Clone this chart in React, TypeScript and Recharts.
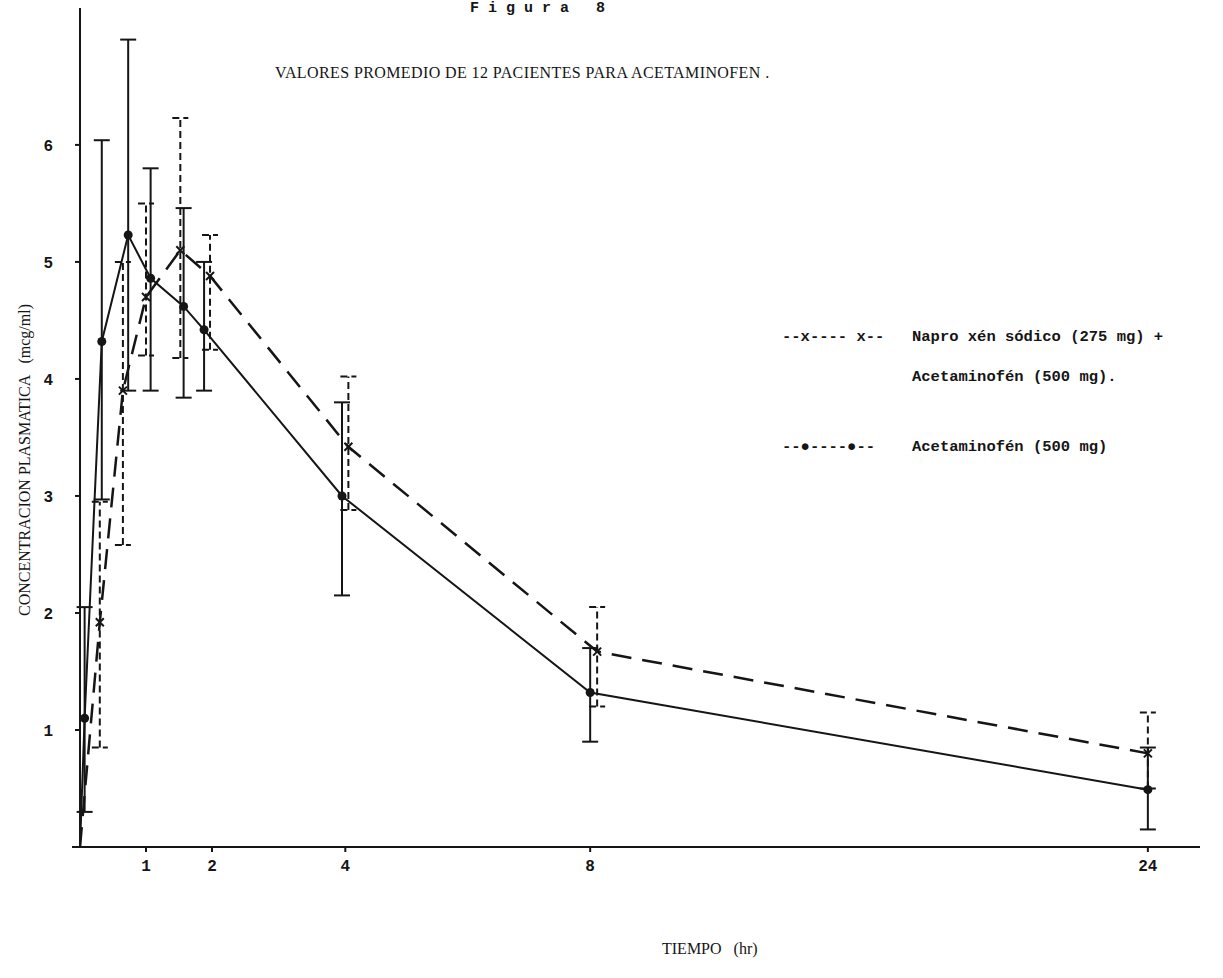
import React from 'react';
import { LineChart, Line, XAxis, YAxis, ErrorBar } from 'recharts';

// Acetaminofén (500 mg) - solid line, filled dots
const acetHours = [0, 0.07, 0.33, 0.73, 1.07, 1.57, 1.88, 3.95, 8, 24];
const acetMean = [0, 1.1, 4.32, 5.23, 4.86, 4.62, 4.42, 3.0, 1.32, 0.49];
const acetLow = [0, 0.3, 2.97, 3.9, 3.9, 3.84, 3.9, 2.15, 0.9, 0.15];
const acetHigh = [0, 2.05, 6.04, 6.9, 5.8, 5.46, 5.0, 3.8, 1.7, 0.85];

// Naproxén sódico (275 mg) + Acetaminofén (500 mg) - dashed line, x marks
const comboHours = [0, 0.3, 0.65, 1.0, 1.52, 1.97, 4.05, 8.2, 24];
const comboMean = [0, 1.92, 3.9, 4.7, 5.1, 4.88, 3.42, 1.67, 0.8];
const comboLow = [0, 0.85, 2.58, 4.2, 4.18, 4.25, 2.88, 1.2, 0.5];
const comboHigh = [0, 2.95, 5.0, 5.5, 6.23, 5.23, 4.02, 2.05, 1.15];

// the time axis of the original is not linear: hours -> axis units
const scaleHours = [0, 1, 2, 4, 8, 24];
const scaleUnits = [0, 1, 2, 4.02, 7.73, 16.18];

const xTicks = [1, 2, 4, 8, 24];
const yTicks = [1, 2, 3, 4, 5, 6];

const xMax = 16.97;
const yMax = 7.17;

const toAxis = (h: number) => {
  for (let i = 1; i < scaleHours.length; i++) {
    if (h <= scaleHours[i] || i === scaleHours.length - 1) {
      const a = scaleHours[i - 1], b = scaleHours[i];
      return scaleUnits[i - 1] + ((h - a) / (b - a)) * (scaleUnits[i] - scaleUnits[i - 1]);
    }
  }
  return 0;
};

const build = (hours: number[], mean: number[], low: number[], high: number[]) =>
  hours.map((h, i) => ({
    x: toAxis(h),
    y: mean[i],
    err: [mean[i] - low[i], high[i] - mean[i]],
  }));

const acetData = build(acetHours, acetMean, acetLow, acetHigh);
const comboData = build(comboHours, comboMean, comboLow, comboHigh);

const ink = '#151515';
const mono = '"Liberation Mono", "DejaVu Sans Mono", monospace';
const serif = '"Liberation Serif", "DejaVu Serif", serif';

const RoundDot = (props: any) => {
  const { cx, cy, index, payload } = props;
  if (payload.y === 0) return <g key={`a-${index}`} />;
  return <circle key={`a-${index}`} cx={cx} cy={cy} r={4.5} fill={ink} />;
};

const CrossDot = (props: any) => {
  const { cx, cy, index, payload } = props;
  if (payload.y === 0) return <g key={`c-${index}`} />;
  const s = 4;
  return (
    <path
      key={`c-${index}`}
      d={`M${cx - s},${cy - s}L${cx + s},${cy + s}M${cx - s},${cy + s}L${cx + s},${cy - s}`}
      stroke={ink}
      strokeWidth={2}
    />
  );
};

const LegendBox = () => (
  <div
    style={{
      position: 'absolute',
      left: 782,
      top: 327,
      fontFamily: mono,
      fontSize: 15.5,
      fontWeight: 700,
      color: ink,
      lineHeight: '20px',
    }}
  >
    <div style={{ display: 'flex' }}>
      <span style={{ width: 130, whiteSpace: 'pre' }}>--x---- x--</span>
      <span style={{ whiteSpace: 'pre' }}>Napro xén sódico (275 mg) +</span>
    </div>
    <div style={{ display: 'flex', marginTop: 20 }}>
      <span style={{ width: 130 }} />
      <span>Acetaminofén (500 mg).</span>
    </div>
    <div style={{ display: 'flex', marginTop: 50 }}>
      <span style={{ width: 130, whiteSpace: 'pre' }}>--●----●--</span>
      <span>Acetaminofén (500 mg)</span>
    </div>
  </div>
);

export default function App() {
  return (
    <div
      style={{
        position: 'absolute',
        left: 0,
        top: 0,
        width: 1223,
        height: 978,
        background: '#fff',
        overflow: 'hidden',
      }}
    >
      <LineChart width={1223} height={978} margin={{ top: 8, right: 23, bottom: 21, left: 20 }}>
        <XAxis
          type="number"
          dataKey="x"
          domain={[0, xMax]}
          allowDataOverflow
          ticks={xTicks.map(toAxis)}
          tickFormatter={(v, i) => String(xTicks[i])}
          height={110}
          stroke={ink}
          strokeWidth={2}
          tickSize={5}
          tickMargin={8}
          tick={{ fill: ink, fontFamily: mono, fontSize: 16, fontWeight: 700 }}
        />
        <YAxis
          type="number"
          domain={[0, yMax]}
          allowDataOverflow
          ticks={yTicks}
          width={60}
          stroke={ink}
          strokeWidth={2}
          tickSize={5}
          tickMargin={22}
          tick={{ fill: ink, fontFamily: mono, fontSize: 16, fontWeight: 700 }}
        />
        <Line
          data={comboData}
          dataKey="y"
          name="Naproxén sódico (275 mg) + Acetaminofén (500 mg)"
          type="linear"
          stroke={ink}
          strokeWidth={2.5}
          strokeDasharray="20 11"
          dot={CrossDot}
          activeDot={false}
          isAnimationActive={false}
        >
          <ErrorBar
            dataKey="err"
            direction="y"
            width={8}
            stroke={ink}
            strokeWidth={2}
            strokeDasharray="7 4"
            isAnimationActive={false}
          />
        </Line>
        <Line
          data={acetData}
          dataKey="y"
          name="Acetaminofén (500 mg)"
          type="linear"
          stroke={ink}
          strokeWidth={2}
          dot={RoundDot}
          activeDot={false}
          isAnimationActive={false}
        >
          <ErrorBar
            dataKey="err"
            direction="y"
            width={8}
            stroke={ink}
            strokeWidth={2}
            isAnimationActive={false}
          />
        </Line>
      </LineChart>
      <div
        style={{
          position: 'absolute',
          left: 470,
          top: 0,
          fontFamily: mono,
          fontSize: 15,
          fontWeight: 700,
          whiteSpace: 'pre',
          color: ink,
        }}
      >
        F i g u r a   8
      </div>
      <div
        style={{
          position: 'absolute',
          left: 275,
          top: 64,
          fontFamily: serif,
          fontSize: 16,
          color: ink,
          letterSpacing: 0.4,
          whiteSpace: 'pre',
        }}
      >
        VALORES PROMEDIO DE 12 PACIENTES PARA ACETAMINOFEN .
      </div>
      <div
        style={{
          position: 'absolute',
          left: 25,
          top: 460,
          transform: 'translate(-50%, -50%) rotate(-90deg)',
          fontFamily: serif,
          fontSize: 16,
          color: ink,
          whiteSpace: 'pre',
        }}
      >
        CONCENTRACION PLASMATICA   (mcg/ml)
      </div>
      <div
        style={{
          position: 'absolute',
          left: 662,
          top: 940,
          fontFamily: serif,
          fontSize: 16,
          color: ink,
          whiteSpace: 'pre',
        }}
      >
        TIEMPO   (hr)
      </div>
      <LegendBox />
    </div>
  );
}
